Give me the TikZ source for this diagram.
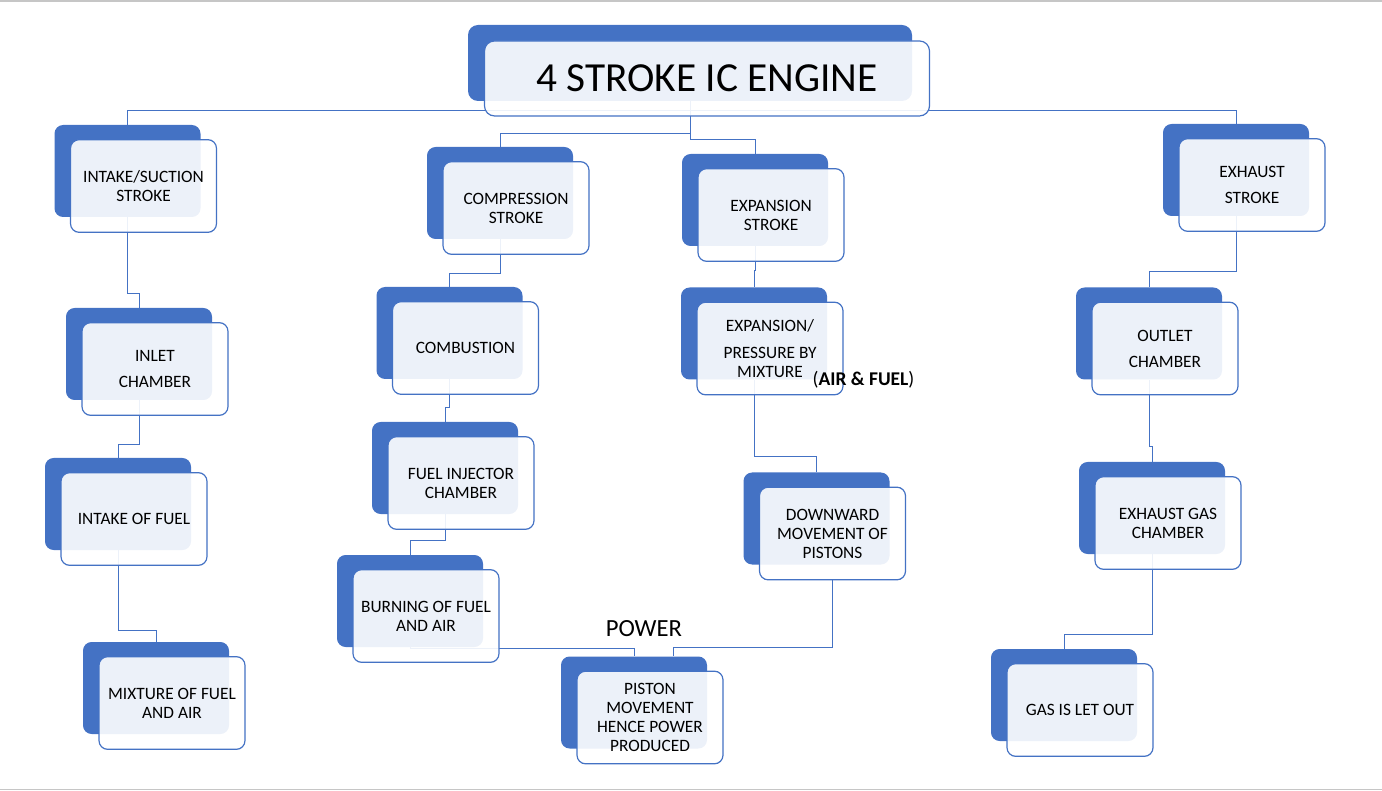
\documentclass[tikz,border=0pt]{standalone}
\usepackage{fontspec}
\setmainfont{Carlito}
\usetikzlibrary{calc}
\definecolor{smartblue}{HTML}{4472C4}
\pgfdeclarelayer{background}
\pgfsetlayers{background,main}
\newcommand{\EngineBoxFont}{\fontsize{13}{14.25}\selectfont}
% one step of the chart: dark card behind, light card in front
\newcommand{\EngineBox}[4]{%
  \node[backbox] (#1-b) at (#2,#3) {};
  \node[frontbox] (#1) at ([xshift=12pt,yshift=-11.25pt]#1-b.center) {#4};
}
\tikzset{
  backbox/.style={fill=smartblue, rounded corners=6.5pt, minimum width=109.5pt, minimum height=69pt, inner sep=0pt},
  frontbox/.style={draw=smartblue, line width=0.9pt, fill=white, fill opacity=0.9, text opacity=1, rounded corners=6.5pt, minimum width=109.5pt, minimum height=69.5pt, inner sep=0pt, align=center, font=\EngineBoxFont},
  link/.style={draw=smartblue, line width=0.75pt},
}

\begin{document}
\begin{tikzpicture}[x=0.75pt,y=-0.75pt]
	\useasboundingbox (0,0) rectangle (1382,791);

	% title
	\node[backbox, rounded corners=7.5pt, minimum width=333pt, minimum height=57pt] (title-b) at (690,63) {};
	\node[frontbox, rounded corners=7.5pt, minimum width=333.75pt, minimum height=56.25pt, font=\fontsize{31}{36}\selectfont] (title) at ([xshift=12.75pt,yshift=-11.6pt]title-b.center) {4 STROKE IC ENGINE};

	% intake column
	\EngineBox{intake}{127.5}{171}{INTAKE/SUCTION\\STROKE}
	\EngineBox{inlet}{139}{354}{INLET\\[5.25pt]CHAMBER}
	\EngineBox{fuelin}{118}{504}{INTAKE OF FUEL}
	\EngineBox{mixture}{156}{688}{MIXTURE OF FUEL\\AND AIR}

	% compression column
	\EngineBox{compression}{500}{193}{COMPRESSION\\STROKE}
	\EngineBox{combustion}{449.5}{333}{COMBUSTION}
	\EngineBox{injector}{445}{468}{FUEL INJECTOR\\CHAMBER}
	\EngineBox{burning}{410}{601}{BURNING OF FUEL\\AND AIR}
	\EngineBox{piston}{634}{702.5}{PISTON\\MOVEMENT\\HENCE POWER\\PRODUCED}

	% expansion column
	\EngineBox{expansion}{755}{200}{EXPANSION\\STROKE}
	\EngineBox{pressure}{754}{333.5}{EXPANSION/\\[6pt]PRESSURE BY\\MIXTURE}
	\EngineBox{downward}{816.5}{518.5}{DOWNWARD\\MOVEMENT OF\\PISTONS}

	% exhaust column
	\EngineBox{exhaust}{1236}{170}{EXHAUST\\[5.25pt]STROKE}
	\EngineBox{outlet}{1149}{333.5}{OUTLET\\[5.25pt]CHAMBER}
	\EngineBox{exgas}{1152}{508}{EXHAUST GAS\\CHAMBER}
	\EngineBox{gasout}{1064}{695}{GAS IS LET OUT}

	\node[font=\fontsize{14.6}{16}\selectfont, inner sep=0pt] (airfuel) at (863.5,380) {(\textbf{AIR \& FUEL})};
	\node[font=\fontsize{18.5}{22}\selectfont, inner sep=0pt] (power) at (644,629) {POWER};

	\begin{pgfonlayer}{background}
		\draw[gray!45, line width=1.2pt] (0,1) -- (1382,1);
		\draw[gray!45, line width=1.2pt] (0,789.5) -- (1382,789.5);

		\draw[link] (title-b.south) -- ++(0,9) -| (intake-b.north);
		\draw[link] (title-b.south) -- ++(0,9) -| (exhaust-b.north);
		\draw[link] (title-b.south) -- ++(0,32) -| (compression-b.north);
		\draw[link] (title-b.south) -- ++(0,38) -| (expansion-b.north);

		\draw[link] (intake-b.south) -- ++(0,76) -| (inlet-b.north);
		\draw[link] (inlet-b.south) -- ++(0,44) -| (fuelin-b.north);
		\draw[link] (fuelin-b.south) -- ++(0,80) -| (mixture-b.north);

		\draw[link] (compression-b.south) -- ++(0,34) -| (combustion-b.north);
		\draw[link] (combustion-b.south) -- ++(0,28) -| (injector-b.north);
		\draw[link] (injector-b.south) -- ++(0,26) -| (burning-b.north);
		\draw[link] (burning-b.south) -- ++(0,1) -| (piston-b.north);

		\draw[link] (expansion-b.south) -- ++(0,24) -| (pressure-b.north);
		\draw[link] (pressure-b.south) -- ++(0,77) -| (downward-b.north);
		\draw[link] (downward.south) -- ++(0,67) -| ([xshift=29.25pt]piston-b.north);

		\draw[link] (exhaust-b.south) -- ++(0,55) -| (outlet-b.north);
		\draw[link] (outlet-b.south) -- ++(0,67) -| (exgas-b.north);
		\draw[link] (exgas-b.south) -- ++(0,80) -| (gasout-b.north);
	\end{pgfonlayer}
\end{tikzpicture}
\end{document}
